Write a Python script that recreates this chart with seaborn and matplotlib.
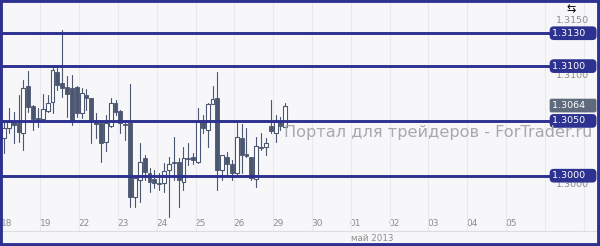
import numpy as np
import pandas as pd
import seaborn as sns
import matplotlib
matplotlib.use("Agg")
import matplotlib.pyplot as plt
from matplotlib.patches import Rectangle
from matplotlib.transforms import ScaledTranslation

# ---------------- data ----------------
days = ['18', '19', '22', '23', '24', '25', '26', '29', '30', '01', '02', '03', '04', '05']
month_label = 'май 2013'
candles_per_day = 8

open_ = [1.3034, 1.30435, 1.3049, 1.3048, 1.3039, 1.3082, 1.3064, 1.3053, 1.3052, 1.3059,
         1.3067, 1.3095, 1.3085, 1.3081, 1.3080, 1.3081, 1.3057, 1.3074, 1.3071, 1.3048,
         1.3048, 1.3031, 1.3045, 1.3066, 1.3059, 1.3048, 1.3048, 1.2981, 1.2996, 1.3016,
         1.30025, 1.2997, 1.2993, 1.2993, 1.3005, 1.3012, 1.30125, 1.2994, 1.3016, 1.3017,
         1.30125, 1.3049, 1.3042, 1.3065, 1.3071, 1.3005, 1.3017, 1.3011, 1.30025, 1.3034,
         1.3019, 1.3017, 1.2997, 1.3026, 1.3026, 1.3045, 1.3039, 1.3049, 1.3044]
close_ = [1.30435, 1.3049, 1.3046, 1.3040, 1.3080, 1.3063, 1.3052, 1.3051, 1.3061, 1.3066,
          1.3096, 1.3083, 1.3080, 1.30745, 1.3051, 1.3057, 1.3075, 1.3071, 1.3049, 1.3048,
          1.3030, 1.3048, 1.3066, 1.3058, 1.3048, 1.3047, 1.2981, 1.2998, 1.30125, 1.3003,
          1.2994, 1.2993, 1.2993, 1.3004, 1.3011, 1.3012, 1.2996, 1.3016, 1.3016, 1.3014,
          1.3049, 1.30435, 1.3065, 1.3070, 1.3005, 1.3019, 1.3011, 1.30025, 1.3035, 1.3019,
          1.3019, 1.2998, 1.3027, 1.3026, 1.3030, 1.3041, 1.3050, 1.3045, 1.3064]
high_ = [1.3049, 1.3062, 1.3058, 1.3074, 1.3087, 1.30955, 1.30645, 1.3062, 1.30745, 1.3074,
         1.3098, 1.3101, 1.3133, 1.3091, 1.3092, 1.3082, 1.3080, 1.3079, 1.3071, 1.3057,
         1.3050, 1.3055, 1.3071, 1.3069, 1.3060, 1.3051, 1.3084, 1.2998, 1.3030, 1.3019,
         1.3007, 1.3005, 1.30025, 1.3012, 1.3017, 1.3035, 1.3016, 1.3026, 1.3030, 1.3021,
         1.3062, 1.3055, 1.3066, 1.3082, 1.3095, 1.3019, 1.3022, 1.3014, 1.3048, 1.3047,
         1.30435, 1.3017, 1.3035, 1.3039, 1.3034, 1.3069, 1.3055, 1.3054, 1.3066]
low_ = [1.3021, 1.3039, 1.3030, 1.3031, 1.3023, 1.3058, 1.3042, 1.3044, 1.3051, 1.3058,
        1.3057, 1.3078, 1.3072, 1.3054, 1.3046, 1.3054, 1.3053, 1.3060, 1.3030, 1.3034,
        1.30125, 1.30225, 1.3044, 1.3055, 1.3039, 1.3033, 1.2971, 1.2971, 1.2976, 1.2996,
        1.2985, 1.2989, 1.2987, 1.2985, 1.2962, 1.2996, 1.2971, 1.2987, 1.3010, 1.3011,
        1.3012, 1.3039, 1.3026, 1.3065, 1.2987, 1.2996, 1.2999, 1.2996, 1.2999, 1.30025,
        1.3017, 1.2996, 1.2990, 1.3023, 1.3019, 1.3039, 1.3031, 1.3042, 1.3044]

levels = [1.3130, 1.3100, 1.3050, 1.3000]
level_labels = ['1.3130', '1.3100', '1.3050', '1.3000']
last_price = 1.3064
last_label = '1.3064'
yticks = [1.3000, 1.3100, 1.3150]
ytick_labels = ['1.3000', '1.3100', '1.3150']
watermark = 'Портал для трейдеров - ForTrader.ru'

# ---------------- style ----------------
BG = '#f7f7f9'
NAVY = '#2d3190'
CANDLE = '#4b5670'
GRAY_BOX = '#5f6a7c'
TICK = '#8c8c8c'

sns.set_theme(style='white', rc={'axes.facecolor': BG, 'figure.facecolor': BG})
plt.rcParams['font.family'] = ['DejaVu Sans']

fig = plt.figure(figsize=(6.0, 2.46), dpi=100)
ax = fig.add_axes([0, 1 - 231 / 246, 1, (231 - 2) / 246])

df = pd.DataFrame({'open': open_, 'close': close_, 'high': high_, 'low': low_})
df['x'] = np.arange(len(df))

# wicks through seaborn
wick = pd.concat([
    pd.DataFrame({'x': df['x'], 'y': df['low'], 'unit': df['x']}),
    pd.DataFrame({'x': df['x'], 'y': df['high'], 'unit': df['x']}),
])
sns.lineplot(data=wick, x='x', y='y', units='unit', estimator=None, sort=False,
             color=CANDLE, lw=0.8, legend=False, ax=ax, zorder=2)

# bodies
min_h = 0.00012
up = df['close'] > df['open']
bottom = np.minimum(df['open'], df['close'])
height = np.maximum(np.abs(df['close'] - df['open']), min_h)
ax.bar(df['x'][up], height[up], bottom=bottom[up], width=0.8,
       color='white', edgecolor=CANDLE, lw=0.8, zorder=3)
ax.bar(df['x'][~up], height[~up], bottom=bottom[~up] - np.where(height[~up] == min_h, min_h / 2, 0),
       width=0.8, color=CANDLE, edgecolor=CANDLE, lw=0.6, zorder=3)

# level lines
for lv in levels:
    ax.axhline(lv, xmin=0, xmax=0.94, color=NAVY, lw=2.1, zorder=4)

# axes limits
x0 = -4 / 4.85
x1 = (600 - 4) / 4.85
ax.set_xlim(x0, x1)
ax.set_ylim(1.3000 - 55.3 / 10960, 1.3000 + 173.7 / 10960)

# x ticks (labels inside axes), minor ticks = day boundaries for grid
maj = [candles_per_day * k + 0.5 for k in range(len(days))]
mnr = [candles_per_day * k - 0.5 for k in range(len(days) + 2)]
ax.set_xticks(maj)
ax.set_xticklabels(days)
ax.set_xticks(mnr, minor=True)
ax.tick_params(axis='x', which='both', length=0, pad=-8.5, labelsize=6.5, labelcolor=TICK)
ax.grid(False)
ax.xaxis.grid(True, which='minor', color='#e8e8ee', lw=0.8)
ax.set_axisbelow(True)

# y ticks on the right, inside
ax.set_yticks(yticks)
ax.set_yticklabels(ytick_labels)
ax.yaxis.tick_right()
ax.tick_params(axis='y', length=0, pad=-44 * 0.72, labelsize=6.8, labelcolor=TICK)
for lbl in ax.get_yticklabels():
    lbl.set_ha('left')
    lbl.set_transform(lbl.get_transform() + ScaledTranslation(0, -8 / 100, fig.dpi_scale_trans))

ax.set_xlabel('')
ax.set_ylabel('')
for s in ['top', 'left', 'right']:
    ax.spines[s].set_visible(False)
ax.spines['bottom'].set_color('#dcdce2')
ax.spines['bottom'].set_linewidth(0.8)

# watermark (under the label boxes)
fig.text(284 / 600, 1 - 133 / 246, watermark, ha='left', va='center',
         fontsize=11.6, color='#a9a9ad', zorder=1)

# level label boxes
bx = 552 / 600
for lv, lab in zip(levels, level_labels):
    ax.text(bx, lv, lab + '   ', transform=ax.get_yaxis_transform(), ha='left', va='center',
            color='white', fontsize=6.8, zorder=6,
            bbox=dict(boxstyle='round,pad=0.25,rounding_size=0.45', fc=NAVY, ec='none'))
ax.text(bx, last_price, last_label + '   ', transform=ax.get_yaxis_transform(), ha='left', va='center',
        color='white', fontsize=6.8, zorder=5,
        bbox=dict(boxstyle='round,pad=0.25,rounding_size=0.2', fc=GRAY_BOX, ec='none'))

# month label
fig.text(372 / 600, 1 - 238.5 / 246, month_label, ha='center', va='center',
         fontsize=6.3, color=TICK)

# small icon at top right
fig.text(571 / 600, 1 - 9 / 246, '⇆', ha='center', va='center', fontsize=8, color='black')

# outer border
fig.add_artist(Rectangle((0, 0), 1, 1, transform=fig.transFigure, fill=False,
                         ec=NAVY, lw=4.2, zorder=10))

fig.savefig('out.png', dpi=100, facecolor=BG)
